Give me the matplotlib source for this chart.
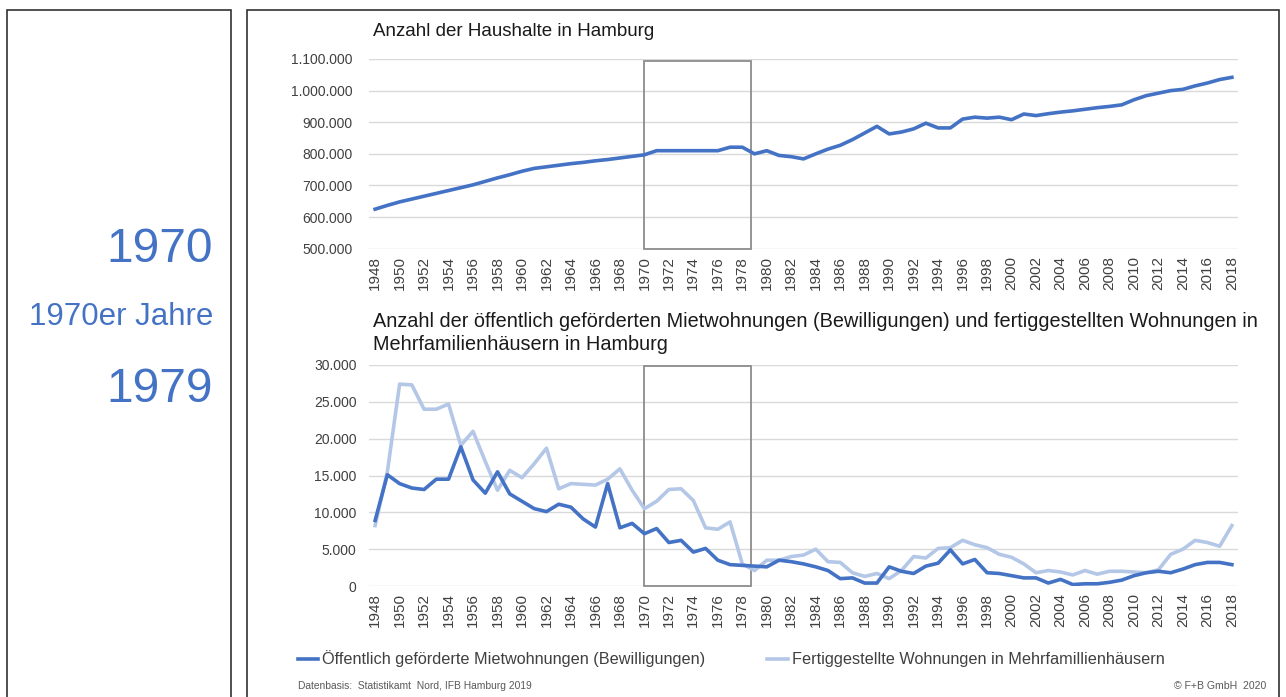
import matplotlib
matplotlib.use("Agg")
import matplotlib.pyplot as plt
from matplotlib.patches import Rectangle
from matplotlib.lines import Line2D
from matplotlib.ticker import FuncFormatter

plt.rcParams['font.family'] = ['Liberation Sans', 'DejaVu Sans']

years = list(range(1948, 2019))

haushalte = [
    625000, 637000, 648000, 657000, 666000, 675000, 684000, 693000, 702000, 713000,
    724000, 734000, 745000, 754000, 759000, 764000, 769000, 773000, 778000, 782000,
    787000, 792000, 797000, 810000, 810000, 810000, 810000, 810000, 810000, 821000,
    821000, 800000, 810000, 795000, 791000, 784000, 800000, 815000, 827000, 845000,
    866000, 887000, 863000, 869000, 879000, 897000, 882000, 882000, 910000, 916000,
    913000, 916000, 908000, 926000, 921000, 927000, 932000, 936000, 941000, 946000,
    950000, 955000, 971000, 984000, 992000, 1000000, 1004000, 1015000, 1024000, 1035000,
    1042000,
]

bewilligungen = [
    8900, 15100, 13900, 13300, 13100, 14500, 14500, 18900, 14400, 12600,
    15500, 12500, 11500, 10500, 10100, 11100, 10700, 9100, 8000, 13900,
    7900, 8500, 7100, 7800, 5900, 6200, 4600, 5100, 3500, 2900,
    2800, 2700, 2600, 3500, 3300, 3000, 2600, 2100, 1000, 1100,
    400, 400, 2600, 2000, 1700, 2700, 3100, 4900, 3000, 3600,
    1800, 1700, 1400, 1100, 1100, 400, 900, 200, 300, 300,
    500, 800, 1400, 1800, 2000, 1800, 2300, 2900, 3200, 3200,
    2900,
]

fertiggestellt = [
    8200, 15500, 27400, 27300, 24000, 24000, 24700, 19100, 21000, 16900,
    13000, 15700, 14700, 16600, 18700, 13200, 13900, 13800, 13700, 14500,
    15900, 13000, 10500, 11500, 13100, 13200, 11600, 7900, 7700, 8700,
    3000, 2100, 3500, 3500, 4000, 4200, 5000, 3300, 3200, 1800,
    1300, 1700, 1000, 2100, 4000, 3800, 5100, 5200, 6200, 5600,
    5200, 4300, 3900, 3000, 1800, 2100, 1900, 1500, 2100, 1600,
    2000, 2000, 1900, 1800, 2200, 4300, 5000, 6200, 5900, 5400,
    8200,
]

title_top = "Anzahl der Haushalte in Hamburg"
title_bottom_1 = ("Anzahl der öffentlich geförderten Mietwohnungen (Bewilligungen) "
                  "und fertiggestellten Wohnungen in")
title_bottom_2 = "Mehrfamilienhäusern in Hamburg"
legend_labels = ["Öffentlich geförderte Mietwohnungen (Bewilligungen)",
                 "Fertiggestellte Wohnungen in Mehrfamillienhäusern"]
highlight = (1970, 1978.75)

W, H = 1286, 697
fig = plt.figure(figsize=(W / 100, H / 100), dpi=100)


def fx(px):
    return px / W


def fy(py):
    return 1 - py / H


# panel frames
fig.patches.append(Rectangle((fx(7), fy(720)), fx(231) - fx(7), fy(10) - fy(720),
                             transform=fig.transFigure, fill=False, ec='#202020', lw=1.1))
fig.patches.append(Rectangle((fx(247), fy(720)), fx(1279) - fx(247), fy(10) - fy(720),
                             transform=fig.transFigure, fill=False, ec='#202020', lw=1.1))

blue = '#4472C4'
fig.text(fx(213), fy(250), "1970", ha='right', va='center', fontsize=34.5, color=blue)
fig.text(fx(213), fy(317), "1970er Jahre", ha='right', va='center', fontsize=22.5, color=blue)
fig.text(fx(213), fy(389), "1979", ha='right', va='center', fontsize=34.5, color=blue)

dark = '#4472C4'
light = '#B4C7E7'
grid = '#D9D9D9'
tick_col = '#404040'

x = list(range(len(years)))
x0 = years[0]


def de_fmt(v, pos):
    return f"{int(round(v)):,}".replace(",", ".")


def style(ax, ymin, ymax, step, ypad):
    ax.set_xlim(-0.5, len(years) - 0.5)
    ax.set_ylim(ymin, ymax)
    ax.set_yticks(list(range(ymin, ymax + 1, step)))
    ax.yaxis.set_major_formatter(FuncFormatter(de_fmt))
    ax.set_xticks(x[::2])
    ax.set_xticklabels([str(y) for y in years[::2]], rotation=90)
    ax.tick_params(axis='both', length=0, labelcolor=tick_col)
    ax.tick_params(axis='y', pad=ypad, labelsize=10)
    ax.tick_params(axis='x', pad=5, labelsize=11)
    for s in ax.spines.values():
        s.set_visible(False)
    ax.grid(axis='y', color=grid, lw=1)
    ax.set_axisbelow(True)


ax1 = fig.add_axes([fx(369), fy(248.7), fx(1238) - fx(369), fy(59) - fy(248.7)])
style(ax1, 500000, 1100000, 100000, 12)
ax1.plot(x, haushalte, color=dark, lw=2.6, solid_joinstyle='round')
ax1.add_patch(Rectangle((highlight[0] - x0, 500000), highlight[1] - highlight[0], 594000,
                        fill=False, ec='#8C8C8C', lw=1.3, clip_on=False))
fig.text(fx(373), fy(32), title_top, ha='left', va='center', fontsize=13.5, color='#1a1a1a')

ax2 = fig.add_axes([fx(369), fy(586), fx(1238) - fx(369), fy(365) - fy(586)])
style(ax2, 0, 30000, 5000, 9)
ax2.plot(x, fertiggestellt, color=light, lw=2.6, solid_joinstyle='round')
ax2.plot(x, bewilligungen, color=dark, lw=2.6, solid_joinstyle='round')
ax2.add_patch(Rectangle((highlight[0] - x0, 0), highlight[1] - highlight[0], 29900,
                        fill=False, ec='#8C8C8C', lw=1.3, clip_on=False))
fig.text(fx(373), fy(322), title_bottom_1, ha='left', va='center', fontsize=14.3, color='#1a1a1a')
fig.text(fx(373), fy(344), title_bottom_2, ha='left', va='center', fontsize=14.3, color='#1a1a1a')

h1 = Line2D([], [], color=dark, lw=2.6)
h2 = Line2D([], [], color=light, lw=2.6)
fig.legend([h1, h2], legend_labels, loc='center left', bbox_to_anchor=(fx(298), fy(659)),
           ncol=2, frameon=False, fontsize=11.7, handlelength=1.25, handletextpad=0.25,
           columnspacing=3.8, borderpad=0, borderaxespad=0, labelcolor=tick_col)

fig.text(fx(298), fy(686), "Datenbasis:  Statistikamt  Nord, IFB Hamburg 2019",
         ha='left', va='center', fontsize=7.4, color='#595959')
fig.text(fx(1266), fy(686), "© F+B GmbH  2020", ha='right', va='center', fontsize=7.6, color='#595959')

fig.savefig("out.png", dpi=100, facecolor='white')
